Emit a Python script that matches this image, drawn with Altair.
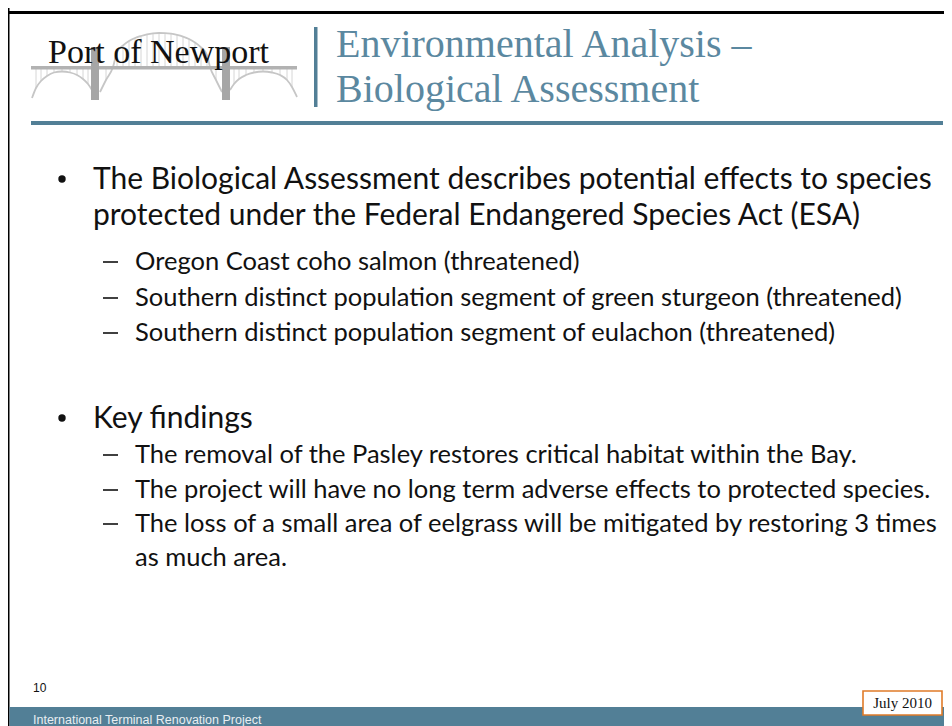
import altair as alt
import pandas as pd

W, H = 936, 718
XS = alt.Scale(domain=[8, 944])
YS = alt.Scale(domain=[8, 726], reverse=True)

TEAL = "#527f96"
TITLE = "#5b88a0"

# ---- text content ----
logo_text = ["Port of Newport"]
title_lines = ["Environmental Analysis \u2013", "Biological Assessment"]
title_base = [57, 102]
main_lines = [
    "The Biological Assessment describes potential effects to species",
    "protected under the Federal Endangered Species Act (ESA)",
    "Key findings",
]
main_base = [189, 225, 428]
bullet_y = [179, 418]
sub_lines = [
    "Oregon Coast coho salmon (threatened)",
    "Southern distinct population segment of green sturgeon (threatened)",
    "Southern distinct population segment of eulachon (threatened)",
    "The removal of the Pasley restores critical habitat within the Bay.",
    "The project will have no long term adverse effects to protected species.",
    "The loss of a small area of eelgrass will be mitigated by restoring 3 times",
    "as much area.",
]
sub_base = [270, 306, 341, 463, 498, 532, 566]
sub_dash = [True, True, True, True, True, True, False]
page_num = ["10"]
footer_text = ["International Terminal Renovation Project"]
date_text = ["July 2010"]

# ---- bridge drawing of the logo ----
arch_center_x = [100, 106, 113, 117, 123, 129, 135, 141, 147, 153, 159, 165, 171, 177, 183, 189, 195, 201, 207, 210, 216, 222]
arch_center_y = [92, 80, 67, 52, 45.5, 41, 38, 36, 34.4, 33.4, 33, 33.1, 33.7, 34.9, 36.6, 39, 42.5, 47.4, 55, 67, 80, 92]
arch_left_x = [32, 36, 41, 47, 54, 62, 70, 77, 83, 88, 92]
arch_left_y = [98, 88, 81, 76, 72.5, 71.5, 72.5, 75, 79, 84, 90]
arch_right_x = [230, 234, 239, 246, 254, 263, 272, 280, 287, 292, 297]
arch_right_y = [90, 84, 79, 75, 72.5, 71.5, 72.5, 75, 80, 87, 97]


def X(f):
    return alt.X(f, type="quantitative", scale=XS, axis=None)


def Y(f):
    return alt.Y(f, type="quantitative", scale=YS, axis=None)


def rect_layer(rows, **mark):
    df = pd.DataFrame(rows, columns=["x0", "x1", "y0", "y1", "c"])
    return alt.Chart(df).mark_rect(**mark).encode(
        x=X("x0"), x2=alt.X2("x1"), y=Y("y0"), y2=alt.Y2("y1"),
        color=alt.Color("c:N", scale=None),
    )


def text_layer(xs, ys, texts, **mark):
    df = pd.DataFrame({"x": xs, "y": ys, "t": texts})
    return alt.Chart(df).mark_text(align="left", baseline="alphabetic", **mark).encode(
        x=X("x"), y=Y("y"), text="t:N"
    )


# frame and bars
frame = rect_layer([
    [8, 9.5, 8, 726, "#000000"],
    [8, 944, 11, 14, "#000000"],
    [31, 943, 121, 125, TEAL],
    [314, 317.5, 27, 107, TEAL],
    [9.5, 944, 707, 726, TEAL],
])
date_box = rect_layer([[863, 942, 691, 715, "#ffffff"]], stroke="#e07b28", strokeWidth=1.6)

# bridge
arch_rows = []
for name, xs, ys in [("c", arch_center_x, arch_center_y), ("l", arch_left_x, arch_left_y), ("r", arch_right_x, arch_right_y)]:
    for i, (a, b) in enumerate(zip(xs, ys)):
        arch_rows.append({"arch": name, "i": i, "x": a, "y": b})
arch_df = pd.DataFrame(arch_rows)
arches = alt.Chart(arch_df).mark_line(interpolate="monotone", strokeWidth=1.8, color="#c6c6c6").encode(
    x=X("x"), y=Y("y"), detail="arch:N", order="i:Q"
)
hang_rows = []
for name, xs, ys in [("c", arch_center_x, arch_center_y), ("l", arch_left_x, arch_left_y), ("r", arch_right_x, arch_right_y)]:
    for a, b in zip(xs[1:-1], ys[1:-1]):
        hang_rows.append({"x": a, "y": 68, "y2": b})
hangers = alt.Chart(pd.DataFrame(hang_rows)).mark_rule(strokeWidth=1, color="#d6d6d6").encode(
    x=X("x"), y=Y("y"), y2=alt.Y2("y2")
)
deck = rect_layer([
    [31, 297, 66, 69.5, "#b2b2b2"],
    [91, 99, 47, 100, "#a6a6a6"],
    [222, 230, 47, 100, "#a6a6a6"],
])

logo = text_layer([48], [63], logo_text, font="Liberation Serif", fontSize=34, color="#111111")
title = text_layer([336, 336], title_base, title_lines, font="Liberation Serif", fontSize=40, color=TITLE)

main = text_layer([93] * len(main_lines), main_base, main_lines, font="Lato", fontSize=30, color="#111111")
bullets = alt.Chart(pd.DataFrame({"x": [62, 62], "y": bullet_y})).mark_point(
    shape="circle", filled=True, size=55, color="#111111", opacity=1
).encode(x=X("x"), y=Y("y"))
subs = text_layer([135] * len(sub_lines), sub_base, sub_lines, font="Lato", fontSize=25.5, color="#111111")
dash_y = [b - 8 for b, d in zip(sub_base, sub_dash) if d]
dashes = alt.Chart(pd.DataFrame({"x": [103] * len(dash_y), "x2": [118] * len(dash_y), "y": dash_y})).mark_rule(
    strokeWidth=1.6, color="#111111"
).encode(x=X("x"), x2=alt.X2("x2"), y=Y("y"))

num = text_layer([33], [692], page_num, font="Liberation Sans", fontSize=12, color="#111111")
footer = text_layer([33], [724], footer_text, font="Liberation Sans", fontSize=12.5, color="#e8eef2")
date = alt.Chart(pd.DataFrame({"x": [902.5], "y": [708], "t": date_text})).mark_text(
    align="center", baseline="alphabetic", font="Liberation Serif", fontSize=15, color="#111111"
).encode(x=X("x"), y=Y("y"), text="t:N")

chart = alt.layer(
    frame, date_box, hangers, arches, deck, logo, title, main, bullets, subs, dashes, num, footer, date
).properties(width=W, height=H, padding=0, autosize="none", background="#ffffff").configure_view(stroke=None)

chart.save("out.html", embed_options={"renderer": "svg", "actions": False})
